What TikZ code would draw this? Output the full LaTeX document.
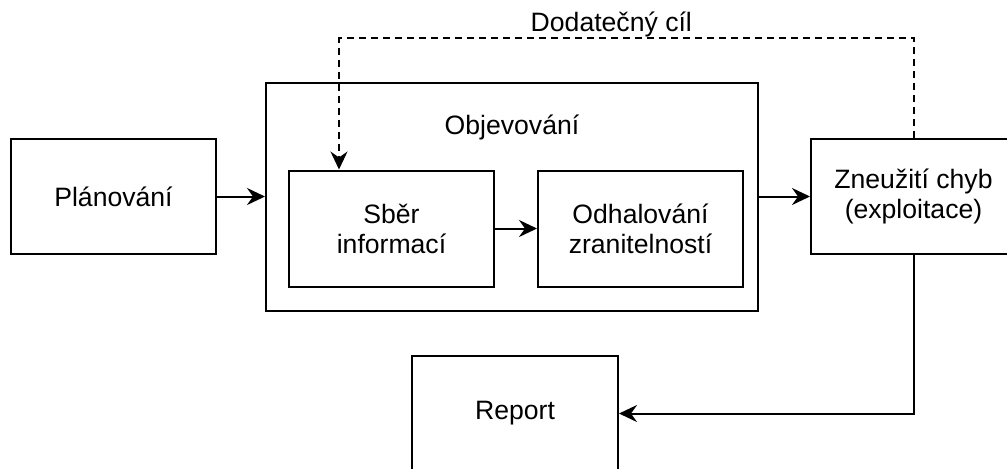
\documentclass[tikz,border=0pt]{standalone}
\usepackage{fontspec}
\setmainfont{Liberation Sans}
\usetikzlibrary{positioning,arrows.meta,calc}

\begin{document}
\begin{tikzpicture}[
        node distance=24pt and 24pt,
        font=\fontsize{13.3pt}{15pt}\selectfont,
        box/.style={
          draw,
          line width=1pt,
          minimum width=102.5pt,
          minimum height=57.5pt,
          align=center
        },
        arr/.style={line width=1pt,-{Stealth[length=9pt,width=8.5pt,inset=3pt]}},
        dasharr/.style={arr,dash pattern=on 3.5pt off 2.5pt}
      ]

      \useasboundingbox (0,0) rectangle (503.5pt,-234pt);
      \clip (0,0) rectangle (503.5pt,-234pt);

      % Planning, then the discovery phase with its two steps inside
      \node[box] (plan) at (56.75pt,-98.25pt) {Plánování};
      \node[box,right=of plan,minimum width=246pt,minimum height=114pt] (objev) {};
      \node (objevlbl) at ([yshift=-23pt]objev.north) {Objevování};
      \node[box,minimum height=58pt,below right=44pt and 11.5pt of objev.north west] (sber) {Sběr\\informací};
      \node[box,minimum height=58pt,right=21pt of sber] (odhal) {Odhalování\\zranitelností};

      % Exploitation and the report
      \node[box,right=25.5pt of objev] (zneu) {Zneužití chyb\\(exploitace)};
      \node[box,minimum width=103pt,minimum height=58pt,below=21.5pt of objev,xshift=1.5pt] (report) {Report};

      \draw[arr] (plan) -- (objev);
      \draw[arr] (sber) -- (odhal);
      \draw[arr] (objev) -- (zneu);
      \draw[arr] (zneu.south) |- (report.east);

      % Feedback loop: an additional target
      \coordinate (dtop) at ([yshift=50pt]zneu.north);
      \draw[dasharr] (zneu.north) -- (dtop) -| node[pos=0.263,anchor=base,yshift=3.5pt] (dodlbl) {Dodatečný cíl} ([xshift=25.5pt]sber.north west);

\end{tikzpicture}
\end{document}
